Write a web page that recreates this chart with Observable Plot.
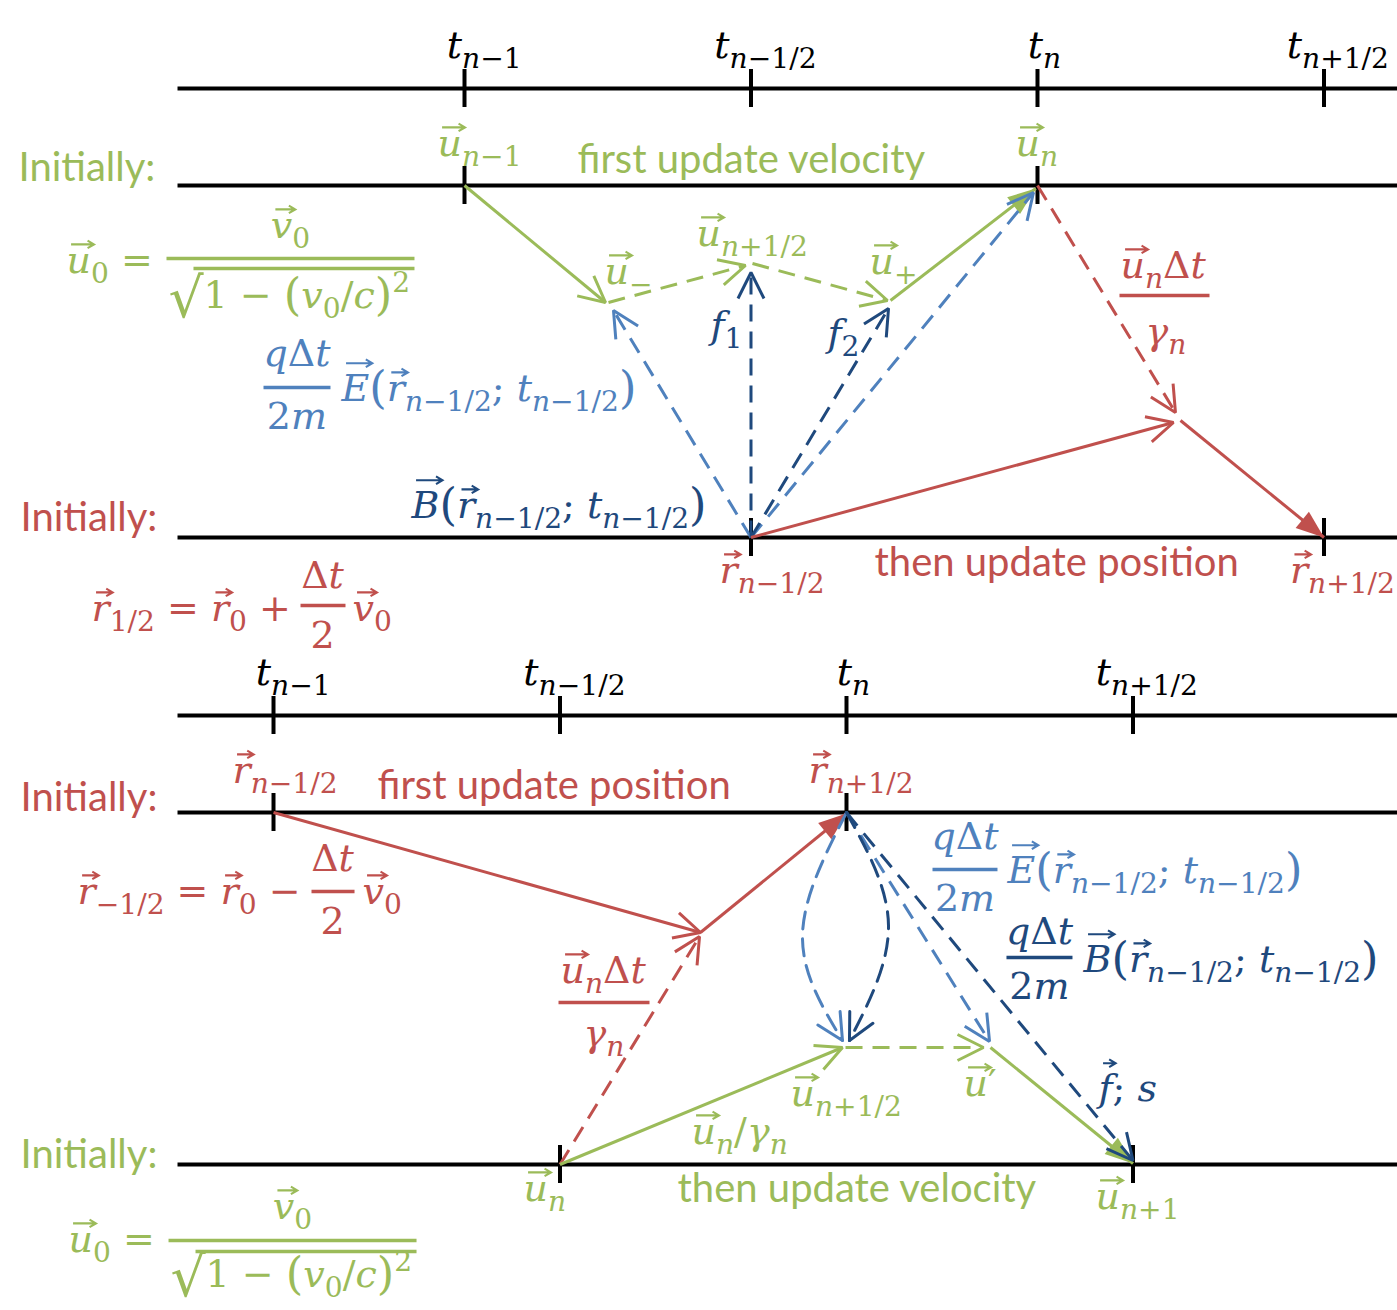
<!DOCTYPE html>
<html>
<head>
<meta charset="utf-8">
<script src="https://cdn.jsdelivr.net/npm/d3@7"></script>
<script src="https://cdn.jsdelivr.net/npm/@observablehq/plot@0.6"></script>
<style>
html, body { margin: 0; padding: 0; background: #fff; overflow: hidden; }
#chart { width: 1397px; }
#chart svg { display: block; }
</style>
</head>
<body>
<div id="chart"></div>
<script>
const NS = "http://www.w3.org/2000/svg";
const GREEN = "#9BBB59", RED = "#C0504D", LBLUE = "#4F81BD", DBLUE = "#1F497D", INK = "#000000";

// ---- time grid, in units of Δt with t_n = 0 ----
const tickTimes = [-1, -0.5, 0, 0.5];
const tickLabels = ["t_{n−1}", "t_{n−1/2}", "t_{n}", "t_{n+1/2}"];
const tickLabelOffset = [-0.031, -0.064, -0.017, -0.065];

// ================= Panel 1: velocity first, then position =================
const p1Rows = [88, 185, 537];            // time axis, velocity row, position row
const p1RowTicks = [
  {t: -1, row: 185}, {t: 0, row: 185},
  {t: -0.5, row: 537}, {t: 0.5, row: 537}
];
const p1Arrows = [
  {x1: -1, y1: 185, x2: -0.7539, y2: 302, c: GREEN, dash: 0, head: "open"},
  {x1: -0.7487, y1: 302, x2: -0.5096, y2: 265, c: GREEN, dash: 1, head: "open"},
  {x1: -0.4974, y1: 263, x2: -0.2618, y2: 300, c: GREEN, dash: 1, head: "open"},
  {x1: -0.2565, y1: 300, x2: -0.003, y2: 188, c: GREEN, dash: 0, head: "fill"},
  {x1: -0.5, y1: 537, x2: -0.74, y2: 310, c: LBLUE, dash: 1, head: "open"},
  {x1: -0.5, y1: 537, x2: -0.5, y2: 272, c: DBLUE, dash: 1, head: "open"},
  {x1: -0.5, y1: 537, x2: -0.26, y2: 308, c: DBLUE, dash: 1, head: "open"},
  {x1: -0.5, y1: 537, x2: -0.007, y2: 192, c: LBLUE, dash: 1, head: "open"},
  {x1: -0.5, y1: 537, x2: 0.2373, y2: 422, c: RED, dash: 0, head: "open"},
  {x1: 0, y1: 185, x2: 0.2408, y2: 412, c: RED, dash: 1, head: "open"},
  {x1: 0.2496, y1: 420, x2: 0.5, y2: 537, c: RED, dash: 0, head: "fill"}
];
const p1Arcs = [];
const p1Math = [
  {s: "$~u_{n−1}", x: -1.0471, y: 155, c: GREEN},
  {s: "$~u_{n}", x: -0.0384, y: 155, c: GREEN},
  {s: "$~u_{−}", x: -0.7557, y: 283, c: GREEN},
  {s: "$~u_{n+1/2}", x: -0.5951, y: 245, c: GREEN},
  {s: "$~u_{+}", x: -0.2932, y: 273, c: GREEN},
  {s: "$f_{1}", x: -0.5707, y: 337, c: DBLUE},
  {s: "$f_{2}", x: -0.3665, y: 345, c: DBLUE},
  {s: "$~u_{n}Δt", x: 0.1449, y: 277, c: RED},
  {s: "$γ_{n}", x: 0.1885, y: 343, c: RED},
  {s: "$~r_{n−1/2}", x: -0.555, y: 582, c: RED},
  {s: "$~r_{n+1/2}", x: 0.4405, y: 582, c: RED},
  {s: "$qΔt", x: -1.2924, y: 365, c: LBLUE, a: "middle"},
  {s: "$2m", x: -1.2924, y: 428, c: LBLUE, a: "middle"},
  {s: "$~E(~r_{n−1/2}; t_{n−1/2})", x: -1.2147, y: 400, c: LBLUE},
  {s: "$~B(~r_{n−1/2}; t_{n−1/2})", x: -1.0925, y: 517, c: DBLUE},
  {s: "$~r_{1/2} = ~r_{0} +", x: -1.651, y: 620, c: RED},
  {s: "$Δt", x: -1.2478, y: 587, c: RED, a: "middle"},
  {s: "$2", x: -1.2478, y: 647, c: RED, a: "middle"},
  {s: "$~v_{0}", x: -1.1955, y: 620, c: RED},
  {s: "$~u_{0} =", x: -1.6946, y: 272, c: GREEN},
  {s: "$~v_{0}", x: -1.3037, y: 237, c: GREEN, a: "middle"},
  {s: "$√1 − (v_{0}/c)^{2}", x: -1.5166, y: 307, c: GREEN}
];
const p1Bars = [
  {x1: 0.1431, x2: 0.3002, y: 295, c: RED},
  {x1: -1.3508, x2: -1.2339, y: 387, c: LBLUE},
  {x1: -1.2862, x2: -1.2077, y: 605, c: RED},
  {x1: -1.5201, x2: -1.0873, y: 258, c: GREEN},
  {x1: -1.473, x2: -1.0873, y: 268, c: GREEN}
];
const p1Words = [
  {s: "Initially:", x: -1.7784, y: 180, c: GREEN},
  {s: "first update velocity", x: -0.8028, y: 172, c: GREEN},
  {s: "Initially:", x: -1.7749, y: 530, c: RED},
  {s: "then update position", x: -0.2845, y: 575, c: RED}
];

// ================= Panel 2: position first, then velocity =================
const p2Rows = [715, 812, 1164];
const p2RowTicks = [
  {t: -1, row: 812}, {t: 0, row: 812},
  {t: -0.5, row: 1164}, {t: 0.5, row: 1164}
];
const p2Arrows = [
  {x1: -1, y1: 812, x2: -0.2548, y2: 932, c: RED, dash: 0, head: "open"},
  {x1: -0.2548, y1: 932, x2: 0, y2: 813, c: RED, dash: 0, head: "fill"},
  {x1: -0.5, y1: 1164, x2: -0.2565, y2: 936, c: RED, dash: 1, head: "open"},
  {x1: -0.5, y1: 1164, x2: -0.007, y2: 1047, c: GREEN, dash: 0, head: "open"},
  {x1: -0.0017, y1: 1047, x2: 0.2391, y2: 1047, c: GREEN, dash: 1, head: "open"},
  {x1: 0.2513, y1: 1047, x2: 0.5, y2: 1163, c: GREEN, dash: 0, head: "fill"},
  {x1: 0, y1: 812, x2: 0.2496, y2: 1041, c: LBLUE, dash: 1, head: "open"},
  {x1: 0, y1: 812, x2: 0.5, y2: 1160, c: DBLUE, dash: 1, head: "open"}
];
const p2Arcs = [
  {id: "E", x: 0, y: 812, c: LBLUE}, {id: "E", x: -0.0768, y: 935, c: LBLUE}, {id: "E", x: -0.007, y: 1040, c: LBLUE},
  {id: "B", x: 0, y: 812, c: DBLUE}, {id: "B", x: 0.0733, y: 925, c: DBLUE}, {id: "B", x: 0.0052, y: 1040, c: DBLUE}
];
const p2Math = [
  {s: "$~r_{n−1/2}", x: -1.0716, y: 782, c: RED},
  {s: "$~r_{n+1/2}", x: -0.0663, y: 782, c: RED},
  {s: "$~r_{−1/2} = ~r_{0} −", x: -1.342, y: 903, c: RED},
  {s: "$Δt", x: -0.897, y: 870, c: RED, a: "middle"},
  {s: "$2", x: -0.897, y: 933, c: RED, a: "middle"},
  {s: "$~v_{0}", x: -0.8447, y: 903, c: RED},
  {s: "$qΔt", x: 0.2068, y: 848, c: LBLUE, a: "middle"},
  {s: "$2m", x: 0.2068, y: 910, c: LBLUE, a: "middle"},
  {s: "$~E(~r_{n−1/2}; t_{n−1/2})", x: 0.281, y: 882, c: LBLUE},
  {s: "$qΔt", x: 0.3368, y: 943, c: DBLUE, a: "middle"},
  {s: "$2m", x: 0.3368, y: 998, c: DBLUE, a: "middle"},
  {s: "$~B(~r_{n−1/2}; t_{n−1/2})", x: 0.4136, y: 971, c: DBLUE},
  {s: "$~u_{n}Δt", x: -0.4991, y: 982, c: RED},
  {s: "$γ_{n}", x: -0.459, y: 1045, c: RED},
  {s: "$~u_{n+1/2}", x: -0.0977, y: 1105, c: GREEN},
  {s: "$~u_{n}/γ_{n}", x: -0.2705, y: 1143, c: GREEN},
  {s: "$~u′", x: 0.2042, y: 1095, c: GREEN},
  {s: "$~f; s", x: 0.4398, y: 1100, c: DBLUE},
  {s: "$~u_{n}", x: -0.5637, y: 1200, c: GREEN},
  {s: "$~u_{n+1}", x: 0.4346, y: 1208, c: GREEN},
  {s: "$~u_{0} =", x: -1.3578, y: 1251, c: GREEN},
  {s: "$~v_{0}", x: -0.9668, y: 1218, c: GREEN, a: "middle"},
  {s: "$√1 − (v_{0}/c)^{2}", x: -1.1798, y: 1286, c: GREEN}
];
const p2Bars = [
  {x1: -0.9337, x2: -0.8586, y: 891, c: RED},
  {x1: 0.1501, x2: 0.2635, y: 869, c: LBLUE},
  {x1: 0.2792, x2: 0.3944, y: 957, c: DBLUE},
  {x1: -0.5026, x2: -0.3438, y: 1002, c: RED},
  {x1: -1.1832, x2: -0.7504, y: 1240, c: GREEN},
  {x1: -1.1361, x2: -0.7504, y: 1251, c: GREEN}
];
const p2Words = [
  {s: "first update position", x: -0.8185, y: 798, c: RED},
  {s: "Initially:", x: -1.4415, y: 810, c: RED},
  {s: "Initially:", x: -1.4415, y: 1167, c: GREEN},
  {s: "then update velocity", x: -0.2949, y: 1201, c: GREEN}
];

// the lower diagram's time grid sits 1/3 Δt to the left of the upper one
const panelShift = [0, -1 / 3];
const lineStart = -1.5;

// ---------------- helpers ----------------
function headMarker(kind) {
  return (color, context) => {
    const doc = (context && context.document) || document;
    const m = doc.createElementNS(NS, "marker");
    m.setAttribute("markerUnits", "userSpaceOnUse");
    m.setAttribute("orient", "auto");
    m.setAttribute("viewBox", "-40 -20 44 40");
    m.setAttribute("markerWidth", "44");
    m.setAttribute("markerHeight", "40");
    m.setAttribute("refX", "0");
    m.setAttribute("refY", "0");
    m.setAttribute("overflow", "visible");
    const p = doc.createElementNS(NS, "path");
    if (kind === "open") {
      p.setAttribute("d", "M-26,-13L0,0L-26,13");
      p.setAttribute("fill", "none");
      p.setAttribute("stroke", color);
      p.setAttribute("stroke-width", "3");
    } else {
      p.setAttribute("d", "M-28,-10.5L0,0L-28,10.5Z");
      p.setAttribute("fill", color);
      p.setAttribute("stroke", "none");
    }
    p.setAttribute("stroke-dasharray", "none");
    m.appendChild(p);
    return m;
  };
}

const MATH_SIZE = 38;
const X_DOMAIN = [-1.8098, 0.6283];

function panelMarks(P, off) {
  const marks = [];
  marks.push(Plot.ruleY(P.rows, {y: d => d, x1: () => lineStart, x2: () => X_DOMAIN[1] + 0.05, stroke: INK, strokeWidth: 4}));
  const ticks = tickTimes.map(t => ({t, row: P.rows[0]})).concat(P.rowTicks);
  marks.push(Plot.ruleX(ticks, {x: d => d.t + off, y1: d => d.row - 19, y2: d => d.row + 19, stroke: INK, strokeWidth: 4}));
  for (const [, items] of d3.groups(P.arrows, d => `${d.c}|${d.dash}|${d.head}`)) {
    const d0 = items[0];
    marks.push(Plot.link(items, {
      x1: d => d.x1 + off, y1: "y1", x2: d => d.x2 + off, y2: "y2",
      stroke: d0.c, strokeWidth: 3,
      strokeDasharray: d0.dash ? "17,10" : undefined,
      markerEnd: headMarker(d0.head)
    }));
  }
  for (const [, items] of d3.groups(P.arcs, d => d.id)) {
    marks.push(Plot.line(items, {
      x: d => d.x + off, y: "y", curve: "natural", stroke: items[0].c, strokeWidth: 3,
      strokeDasharray: "17,10", markerEnd: headMarker("open")
    }));
  }
  marks.push(Plot.link(P.bars, {x1: d => d.x1 + off, x2: d => d.x2 + off, y1: "y", y2: "y", stroke: "c", strokeWidth: 3.5}));
  const labels = tickTimes.map((t, i) => ({s: "$" + tickLabels[i], x: t + tickLabelOffset[i], y: P.rows[0] - 31, c: INK}));
  const math = labels.concat(P.math);
  const common = {x: d => d.x + off, y: "y", text: "s", fill: "c", lineAnchor: "bottom", fontFamily: "DejaVu Serif", fontSize: MATH_SIZE};
  marks.push(Plot.text(math.filter(d => d.a !== "middle"), {...common, textAnchor: "start"}));
  marks.push(Plot.text(math.filter(d => d.a === "middle"), {...common, textAnchor: "middle"}));
  marks.push(Plot.text(P.words, {x: d => d.x + off, y: "y", text: "s", fill: "c", lineAnchor: "bottom",
    textAnchor: "start", fontFamily: "Lato", fontSize: 40}));
  return marks;
}

function parseMath(s, level = 0, out = []) {
  let vec = false;
  for (let i = 0; i < s.length;) {
    const ch = s[i];
    if (ch === "~") { vec = true; i++; continue; }
    if (ch === "_" || ch === "^") {
      const lv = ch === "_" ? 1 : 2;
      let grp;
      if (s[i + 1] === "{") { const j = s.indexOf("}", i + 1); grp = s.slice(i + 2, j); i = j + 1; }
      else { grp = s[i + 1]; i += 2; }
      parseMath(grp, lv, out);
      continue;
    }
    out.push({ch, level, vec});
    vec = false; i++;
  }
  return out;
}

function typeset(svg) {
  svg.querySelectorAll("text").forEach(node => {
    const src = node.textContent;
    if (!src.startsWith("$")) return;
    const cs = getComputedStyle(node);
    const fs = parseFloat(cs.fontSize);
    const color = cs.fill;
    const toks = parseMath(src.slice(1));
    node.textContent = "";
    let shift = 0, index = 0, run = null;
    const vecs = [];
    const flush = () => {
      if (!run) return;
      const sp = document.createElementNS(NS, "tspan");
      const factor = run.rad ? 1.45 : run.big ? 1.18 : run.level ? 0.74 : 1;
      const size = fs * factor;
      sp.setAttribute("font-size", size.toFixed(2));
      sp.setAttribute("font-style", run.italic ? "italic" : "normal");
      const target = run.level === 1 ? 0.28 * fs : run.level === 2 ? -0.42 * fs
        : run.rad ? 0.24 * fs : run.big ? 0.06 * fs : 0;
      if (Math.abs(target - shift) > 0.01) sp.setAttribute("dy", (target - shift).toFixed(2));
      shift = target;
      sp.textContent = run.text.replace(/ /g, "\u00a0");
      node.appendChild(sp);
      if (run.vec) vecs.push({index, cap: /[A-Zf]/.test(run.text), size});
      index += run.text.length;
      run = null;
    };
    for (const tk of toks) {
      const italic = /[A-Za-zγ]/.test(tk.ch);
      const big = tk.level === 0 && /[()]/.test(tk.ch);
      const rad = tk.ch === "√";
      const key = `${tk.level}|${italic}|${big}|${rad}`;
      if (run && run.key === key && !tk.vec && !run.vec && !rad) run.text += tk.ch;
      else { flush(); run = {key, text: tk.ch, level: tk.level, italic, big, rad, vec: tk.vec}; }
    }
    flush();
    const tr = node.getAttribute("transform");
    for (const v of vecs) {
      const a = node.getStartPositionOfChar(v.index), b = node.getEndPositionOfChar(v.index);
      const s = v.size;
      const y = a.y - (v.cap ? 0.98 : 0.74) * s;
      const x0 = a.x + 0.12 * s, x1 = b.x + 0.08 * s;
      const h = 0.17 * s, w = 0.1 * s;
      const p = document.createElementNS(NS, "path");
      p.setAttribute("d", `M${x0},${y}H${x1}M${x1 - h},${y - w}L${x1},${y}L${x1 - h},${y + w}`);
      p.setAttribute("fill", "none");
      p.setAttribute("stroke", color);
      p.setAttribute("stroke-width", (0.055 * s).toFixed(2));
      if (tr) p.setAttribute("transform", tr);
      node.parentNode.appendChild(p);
    }
  });
}

const panels = [
  {rows: p1Rows, rowTicks: p1RowTicks, arrows: p1Arrows, arcs: p1Arcs, math: p1Math, bars: p1Bars, words: p1Words},
  {rows: p2Rows, rowTicks: p2RowTicks, arrows: p2Arrows, arcs: p2Arcs, math: p2Math, bars: p2Bars, words: p2Words}
];

const svg = Plot.plot({
  width: 1397, height: 1310, margin: 0,
  x: {domain: X_DOMAIN, range: [0, 1397], axis: null},
  y: {domain: [0, 1310], range: [0, 1310], axis: null},
  color: {type: "identity"},
  style: {background: "white"},
  marks: panels.flatMap((P, i) => panelMarks(P, panelShift[i]))
});
document.getElementById("chart").appendChild(svg);
typeset(svg);
</script>
</body>
</html>
